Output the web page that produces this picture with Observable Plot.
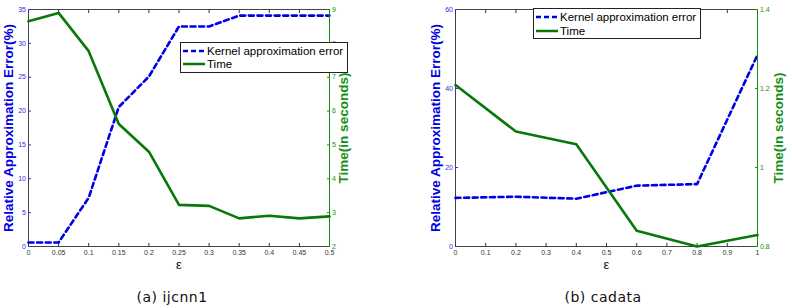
<!DOCTYPE html>
<html>
<head>
<meta charset="utf-8">
<script src="https://cdn.jsdelivr.net/npm/d3@7"></script>
<script src="https://cdn.jsdelivr.net/npm/@observablehq/plot@0.6"></script>
<style>
  html, body { margin: 0; padding: 0; background: #fff; }
  #root { position: relative; width: 792px; height: 308px; overflow: hidden; font-family: "Liberation Sans", Arial, sans-serif; }
  .layer { position: absolute; top: 0; }
  .legend { position: absolute; background: #fff; border: 1px solid #222; box-sizing: border-box; font-size: 11.5px; color: #000; }
  .legend .row { position: absolute; left: 2px; height: 12px; display: flex; align-items: center; white-space: nowrap; }
  .legend svg { margin-right: 2px; }
  .caption { position: absolute; top: 289px; font-family: "DejaVu Sans", sans-serif; font-size: 14px; letter-spacing: 0.5px; color: #111; transform: translateX(-50%); white-space: nowrap; }
</style>
</head>
<body>
<div id="root"></div>
<script>
// ---- data: panel (a) ijcnn1 ----
const epsA   = [0, 0.05, 0.1, 0.15, 0.2, 0.25, 0.3, 0.35, 0.4, 0.45, 0.5];
const errA   = [0.6, 0.6, 7.2, 20.6, 25.1, 32.5, 32.5, 34.1, 34.1, 34.1, 34.1];
const timeA  = [8.65, 8.9, 7.77, 5.62, 4.8, 3.23, 3.2, 2.83, 2.91, 2.83, 2.89];
const xTicksA    = [0, 0.05, 0.1, 0.15, 0.2, 0.25, 0.3, 0.35, 0.4, 0.45, 0.5];
const errTicksA  = [0, 5, 10, 15, 20, 25, 30, 35];
const timeTicksA = [2, 3, 4, 5, 6, 7, 8, 9];

// ---- data: panel (b) cadata ----
const epsB   = [0, 0.2, 0.4, 0.6, 0.8, 1];
const errB   = [12.3, 12.6, 12.1, 15.4, 15.8, 48.5];
const timeB  = [1.209, 1.091, 1.059, 0.84, 0.8, 0.829];
const xTicksB    = [0, 0.1, 0.2, 0.3, 0.4, 0.5, 0.6, 0.7, 0.8, 0.9, 1];
const errTicksB  = [0, 20, 40, 60];
const timeTicksB = [0.8, 1, 1.2, 1.4];

// ---- text ----
const seriesNames = ["Kernel approximation error", "Time"];
const yLabelLeft  = "Relative Approximation Error(%)";
const yLabelRight = "Time(in seconds)";
const xLabel      = "ε";
const captions    = ["(a) ijcnn1", "(b) cadata"];

const FONT = "'Liberation Sans', Arial, sans-serif";
const BLUE = "#0000e6";
const GREEN = "#087808";
const GREEN_TXT = "#139013";
const H = 270, MT = 9, MB = 24;
const fmt = d => String(d);

const root = document.getElementById("root");

function panel(cfg) {
  const common = {
    width: cfg.width, height: H,
    marginLeft: cfg.ml, marginRight: cfg.mr, marginTop: MT, marginBottom: MB
  };
  const base = Plot.plot({
    ...common,
    style: { fontFamily: FONT, background: "transparent", overflow: "visible" },
    x: { domain: [cfg.xTicks[0], cfg.xTicks[cfg.xTicks.length - 1]], label: null },
    y: { domain: [cfg.errTicks[0], cfg.errTicks[cfg.errTicks.length - 1]], label: null },
    marks: [
      Plot.frame({ stroke: "#444" }),
      Plot.axisX(cfg.xTicks, { anchor: "bottom", tickSize: -3, tickPadding: 6.5, fontSize: 7, color: "#333", tickFormat: fmt, label: null }),
      Plot.axisX(cfg.xTicks, { anchor: "top", tickSize: -3, tickFormat: () => "", color: "#333", label: null }),
      Plot.axisY(cfg.errTicks, { anchor: "left", tickSize: -3, tickPadding: 5.5, fontSize: 7, color: "#3030dd", tickFormat: fmt, label: null }),
      Plot.line(cfg.eps.map((x, i) => ({ x, y: cfg.err[i] })), {
        x: "x", y: "y", stroke: BLUE, strokeWidth: 2.6, strokeDasharray: "5,3.6"
      }),
      Plot.text([yLabelLeft], { frameAnchor: "left", dx: cfg.lblL, rotate: -90, fontSize: 13.5, fontWeight: "bold", fill: BLUE, textAnchor: "middle" }),
      Plot.text([xLabel], { frameAnchor: "bottom", dy: 22, fontSize: 13, fill: "#111" })
    ]
  });
  const over = Plot.plot({
    ...common,
    style: { fontFamily: FONT, background: "transparent", overflow: "visible" },
    x: { domain: [cfg.xTicks[0], cfg.xTicks[cfg.xTicks.length - 1]], axis: null },
    y: { domain: [cfg.timeTicks[0], cfg.timeTicks[cfg.timeTicks.length - 1]], label: null },
    marks: [
      Plot.frame({ anchor: "right", stroke: GREEN_TXT }),
      Plot.axisY(cfg.timeTicks, { anchor: "right", tickSize: -3, tickPadding: 5.5, fontSize: 7, color: GREEN_TXT, tickFormat: fmt, label: null }),
      Plot.line(cfg.eps.map((x, i) => ({ x, y: cfg.time[i] })), {
        x: "x", y: "y", stroke: GREEN, strokeWidth: 2.6
      }),
      Plot.text([yLabelRight], { frameAnchor: "right", dx: cfg.lblR, rotate: -90, fontSize: 13.5, fontWeight: "bold", fill: GREEN_TXT, textAnchor: "middle" })
    ]
  });
  for (const svg of [base, over]) {
    svg.classList.add("layer");
    svg.style.left = cfg.left + "px";
    root.appendChild(svg);
  }
  // legend
  const lg = document.createElement("div");
  lg.className = "legend";
  lg.style.left = cfg.leg[0] + "px";
  lg.style.top = cfg.leg[1] + "px";
  lg.style.width = cfg.leg[2] + "px";
  lg.style.height = cfg.leg[3] + "px";
  seriesNames.forEach((name, i) => {
    const row = document.createElement("div");
    row.className = "row";
    row.style.top = (cfg.legRows[i] - 6) + "px";
    const dash = i === 0 ? `stroke-dasharray="5,3"` : "";
    const col = i === 0 ? BLUE : GREEN;
    row.innerHTML = `<svg width="22" height="6"><line x1="0" y1="3" x2="22" y2="3" stroke="${col}" stroke-width="2.5" ${dash}/></svg><span>${name}</span>`;
    lg.appendChild(row);
  });
  root.appendChild(lg);
  const cap = document.createElement("div");
  cap.className = "caption";
  cap.style.left = cfg.cap + "px";
  cap.textContent = cfg.caption;
  root.appendChild(cap);
}

panel({
  left: 0, width: 400, ml: 28, mr: 71,
  eps: epsA, err: errA, time: timeA,
  xTicks: xTicksA, errTicks: errTicksA, timeTicks: timeTicksA,
  lblL: -20, lblR: 14,
  leg: [180, 42, 168, 31], legRows: [8, 21],
  cap: 172, caption: captions[0]
});
panel({
  left: 400, width: 392, ml: 55, mr: 35,
  eps: epsB, err: errB, time: timeB,
  xTicks: xTicksB, errTicks: errTicksB, timeTicks: timeTicksB,
  lblL: -20, lblR: 21,
  leg: [533, 8, 168, 31], legRows: [8, 22],
  cap: 603, caption: captions[1]
});
</script>
</body>
</html>
